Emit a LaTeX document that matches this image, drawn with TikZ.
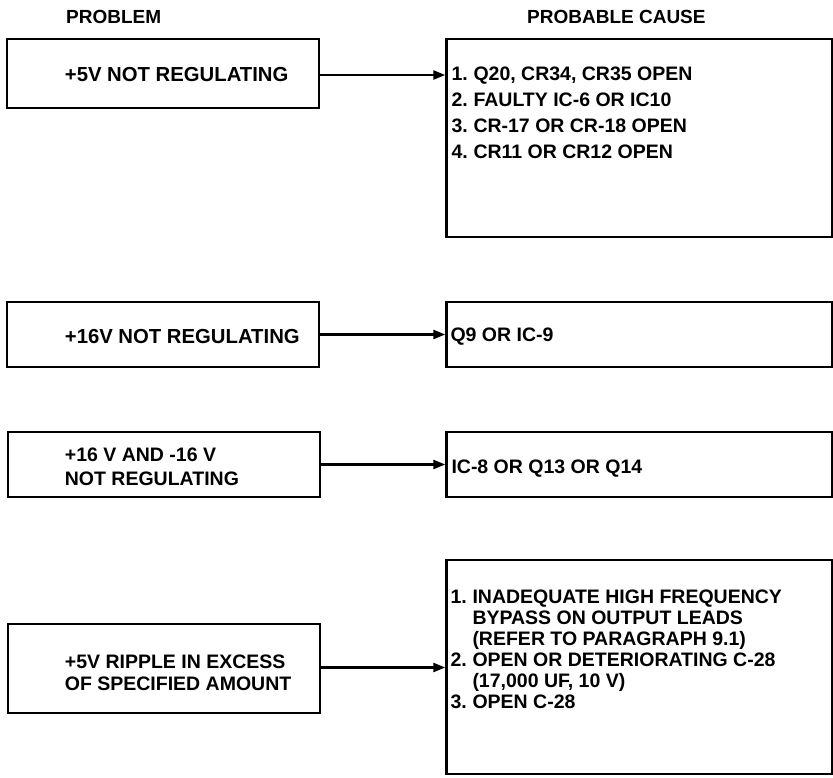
\documentclass[tikz,border=0pt]{standalone}
\usepackage{fontspec}
\setmainfont{Liberation Sans}
\usetikzlibrary{positioning, arrows.meta}

\begin{document}
\begin{tikzpicture}[x=1pt, y=-1pt,
        box/.style={rectangle, draw, line width=2.6pt, minimum width=312pt, inner sep=0pt},
        cause/.style={rectangle, draw, line width=2.6pt, minimum width=386pt, inner sep=0pt},
        txt/.style={font=\bfseries\fontsize{19.5}{24}\selectfont, align=left, inner sep=0pt},
        head/.style={font=\bfseries\fontsize{19}{22}\selectfont, inner sep=0pt},
        arrow/.style={-{Triangle[length=12pt, width=9pt]}, line width=2.4pt}
    ]
        \useasboundingbox (0,0) rectangle (833,777);

        % Headings
        \node[head, anchor=west] (hprob) at (66,17) {PROBLEM};
        \node[head, anchor=west] (hcause) at (527,17) {PROBABLE CAUSE};

        % Problems
        \node[box, minimum height=69pt] (p1) at (163,73.5) {};
        \node[box, minimum height=65pt] (p2) at (163,334.5) {};
        \node[box, minimum height=65pt] (p3) at (164,464.5) {};
        \node[box, minimum height=89pt] (p4) at (164,668.5) {};

        % Causes
        \node[cause, minimum height=198pt, right=125pt of p1.north east, anchor=north west] (c1) {};
        \node[cause, minimum height=65pt, right=125pt of p2] (c2) {};
        \node[cause, minimum height=65pt, right=124pt of p3] (c3) {};
        \node[cause, minimum height=214pt, right=124pt of p4, yshift=1.5pt] (c4) {};

        % Problem texts
        \node[txt, anchor=west, font=\bfseries\fontsize{20.3}{24}\selectfont] (tp1) at ([xshift=59pt, yshift=-1.5pt]p1.west) {+5V NOT REGULATING};
        \node[txt, anchor=west, font=\bfseries\fontsize{20.3}{24}\selectfont] (tp2) at ([xshift=59pt, yshift=-2.5pt]p2.west) {+16V NOT REGULATING};
        \node[txt, anchor=west] (tp3) at ([xshift=58pt, yshift=-2pt]p3.west) {+16 V AND -16 V\\NOT REGULATING};
        \node[txt, anchor=west, font=\bfseries\fontsize{19.5}{22}\selectfont] (tp4) at ([xshift=58pt, yshift=-4pt]p4.west) {+5V RIPPLE IN EXCESS\\OF SPECIFIED AMOUNT};

        % Cause texts
        \node[txt, anchor=north west, font=\bfseries\fontsize{19.5}{26}\selectfont] (tc1) at ([xshift=6pt, yshift=-29pt]c1.north west)
            {\makebox[22pt][l]{1.}Q20, CR34, CR35 OPEN\\
             \makebox[22pt][l]{2.}FAULTY IC-6 OR IC10\\
             \makebox[22pt][l]{3.}CR-17 OR CR-18 OPEN\\
             \makebox[22pt][l]{4.}CR11 OR CR12 OPEN};
        \node[txt, anchor=west] (tc2) at ([xshift=5pt, yshift=-2.5pt]c2.west) {Q9 OR IC-9};
        \node[txt, anchor=west] (tc3) at ([xshift=6pt, yshift=-4.5pt]c3.west) {IC-8 OR Q13 OR Q14};
        \node[txt, anchor=north west, font=\bfseries\fontsize{19.5}{21}\selectfont] (tc4) at ([xshift=5pt, yshift=-31pt]c4.north west)
            {\makebox[22pt][l]{1.}INADEQUATE HIGH FREQUENCY\\
             \hspace*{22pt}BYPASS ON OUTPUT LEADS\\
             \hspace*{22pt}(REFER TO PARAGRAPH 9.1)\\
             \makebox[22pt][l]{2.}OPEN OR DETERIORATING C-28\\
             \hspace*{22pt}(17,000 UF, 10 V)\\
             \makebox[22pt][l]{3.}OPEN C-28};

        % Arrows
        \draw[arrow] ([yshift=-1.5pt]p1.east) -- ([yshift=-1.5pt]p1.east -| c1.west);
        \draw[arrow] (p2) -- (c2);
        \draw[arrow] (p3) -- (c3);
        \draw[arrow] ([yshift=1pt]p4.east) -- ([yshift=1pt]p4.east -| c4.west);
    \end{tikzpicture}
\end{document}
